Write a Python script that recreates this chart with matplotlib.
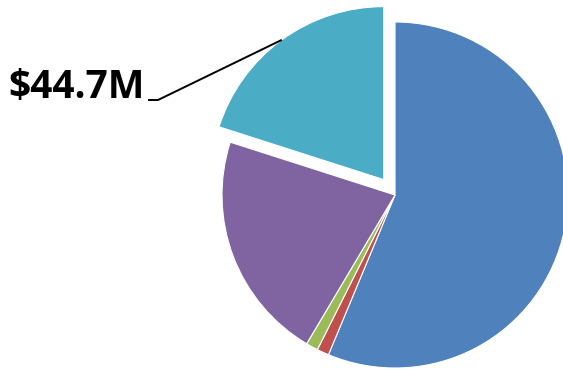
import numpy as np
import matplotlib.pyplot as plt

# slice values in $M, clockwise from 12 o'clock
labels = ["A", "B", "C", "D", "E"]
values = [125.4, 2.5, 2.5, 47.7, 44.7]
colors = ["#4F81BD", "#C0504D", "#9BBB59", "#8064A2", "#4BACC6"]
explode = [0, 0, 0, 0, 0.11]
label_text = "$44.7M"

W, H = 563, 369
fig = plt.figure(figsize=(W / 100, H / 100), dpi=100)
ax = fig.add_axes([0, 0, 1, 1])

cx, cy, r = 395, H - 195, 173
# pie's explode is an absolute offset, so scale it by the radius
wedges, _ = ax.pie(values, colors=colors, explode=[e * r for e in explode],
                   startangle=90, counterclock=False, center=(cx, cy), radius=r,
                   wedgeprops=dict(edgecolor="white", linewidth=0.8))
ax.set_aspect("auto")
ax.set_xlim(0, W)
ax.set_ylim(0, H)
ax.axis("off")

# leader line to the exploded slice
w = wedges[-1]
mid = np.deg2rad((w.theta1 + w.theta2) / 2)
px = w.center[0] + w.r * np.cos(mid)
py = w.center[1] + w.r * np.sin(mid)
ly = H - 100
ax.plot([148, 158, px], [ly, ly, py], color="black", lw=1.4,
        solid_capstyle="butt")
ax.text(8, ly + 13, label_text, fontsize=28, fontweight="bold",
        family="Open Sans", ha="left", va="center")

fig.savefig("out.png", dpi=100)
